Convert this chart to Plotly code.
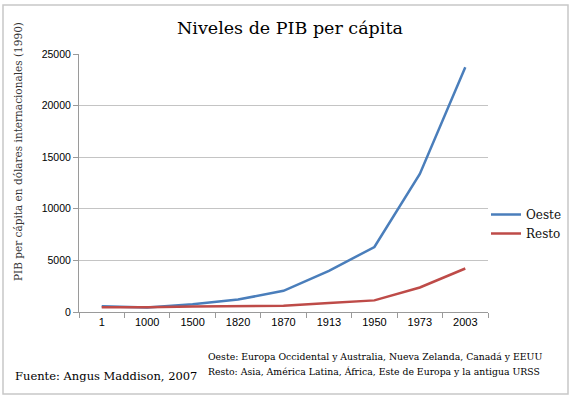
import plotly.graph_objects as go

years = ["1", "1000", "1500", "1820", "1870", "1913", "1950", "1973", "2003"]
oeste = [569, 426, 753, 1202, 2050, 3988, 6297, 13379, 23710]
resto = [453, 451, 538, 580, 609, 880, 1126, 2379, 4217]
y_ticks = [0, 5000, 10000, 15000, 20000, 25000]

L, R, T, B = 79, 83, 54, 86
W, H = 571, 398
pw, ph = W - L - R, H - T - B

def px(x):
    return (x - L) / pw

def py(y):
    return (H - B - y) / ph

serif = "DejaVu Serif"
sans = "Liberation Sans"

fig = go.Figure()
fig.add_trace(go.Scatter(x=years, y=oeste, name="Oeste", mode="lines",
                         line=dict(color="#4A7EBB", width=2.5)))
fig.add_trace(go.Scatter(x=years, y=resto, name="Resto", mode="lines",
                         line=dict(color="#BE4B48", width=2.5)))

fig.update_layout(
    width=W, height=H,
    margin=dict(l=L, r=R, t=T, b=B, autoexpand=False),
    paper_bgcolor="white", plot_bgcolor="white",
    showlegend=True,
    legend=dict(xref="container", yref="container",
                x=486 / W, y=1 - 200 / H, xanchor="left", yanchor="top",
                font=dict(family=serif, size=12, color="#111"),
                bgcolor="rgba(0,0,0,0)", tracegroupgap=0, itemwidth=30),
    xaxis=dict(type="category", range=[-0.5, 8.5], showgrid=False,
               showline=True, linecolor="#9a9a9a", linewidth=1,
               ticks="outside", ticklen=5, tickcolor="#9a9a9a",
               tickson="boundaries",
               tickfont=dict(family=sans, size=11, color="#000"),
               fixedrange=True),
    yaxis=dict(range=[0, 25000], tickvals=y_ticks,
               ticktext=[str(v) for v in y_ticks],
               showgrid=True, gridcolor="#c4c4c4", gridwidth=1,
               showline=True, linecolor="#9a9a9a", linewidth=1,
               ticks="outside", ticklen=5, tickcolor="#9a9a9a",
               tickfont=dict(family=sans, size=10.5, color="#000"),
               zeroline=False, fixedrange=True),
    shapes=[dict(type="rect", xref="paper", yref="paper",
                 x0=px(3), x1=px(568), y0=py(394), y1=py(5),
                 line=dict(color="#c8c8c8", width=1.5), layer="below")],
    annotations=[
        dict(text="Niveles de PIB per cápita", xref="paper", yref="paper",
             x=px(290), y=py(28), xanchor="center", yanchor="middle",
             showarrow=False, font=dict(family=serif, size=17.5, color="#000")),
        dict(text="PIB per cápita en dólares internacionales (1990)",
             xref="paper", yref="paper", x=px(18), y=py(152),
             xanchor="center", yanchor="middle", textangle=-90,
             showarrow=False, font=dict(family=serif, size=10.5, color="#333")),
        dict(text="Fuente: Angus Maddison, 2007", xref="paper", yref="paper",
             x=px(13), y=py(376), xanchor="left", yanchor="middle",
             showarrow=False, font=dict(family=serif, size=11.5, color="#000")),
        dict(text="Oeste: Europa Occidental y Australia, Nueva Zelanda, Canadá y EEUU",
             xref="paper", yref="paper", x=px(206), y=py(356),
             xanchor="left", yanchor="middle", showarrow=False,
             font=dict(family=serif, size=9.3, color="#000")),
        dict(text="Resto: Asia, América Latina, África, Este de Europa y la antigua URSS",
             xref="paper", yref="paper", x=px(206), y=py(371),
             xanchor="left", yanchor="middle", showarrow=False,
             font=dict(family=serif, size=9.3, color="#000")),
    ],
)

fig.write_html("out.html", config={"displayModeBar": False},
               post_script="document.body.style.margin='0';")
